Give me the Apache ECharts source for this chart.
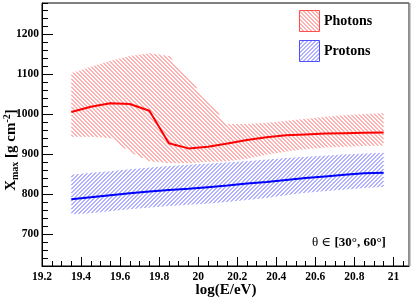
<!DOCTYPE html>
<html><head><meta charset="utf-8">
<script src="https://cdn.jsdelivr.net/npm/echarts@6/dist/echarts.min.js"></script>
<style>html,body{margin:0;padding:0;background:#fff}#c{width:417px;height:299px}</style>
</head><body><div id="c"></div>
<script>
const energies = [19.35,19.45,19.55,19.65,19.75,19.85,19.95,20.05,20.15,20.25,20.35,20.45,20.55,20.65,20.75,20.85,20.95];
const photonMean  = [1005,1018,1027,1025,1008,927,914,918,926,935,942,947,949,951,952,953,954];
const photonUpper = [1102,1118,1133,1145,1152,1145,1090,1030,975,975,978,983,988,993,997,1000,1002];
const photonLower = [943,943,940,905,882,877,877,880,882,888,898,906,912,916,918,920,921];
const protonMean  = [787,792,797,802,806,810,813,817,821,826,830,835,840,844,848,852,853];
const protonUpper = [848,853,857,862,866,870,873,876,879,882,886,890,893,896,899,901,903];
const protonLower = [749,752,757,762,766,770,773,776,780,785,790,797,803,807,811,815,818];
const xTickLabels = [19.2,19.4,19.6,19.8,20,20.2,20.4,20.6,20.8,21];
const yTickLabels = [700,800,900,1000,1100,1200];

const RED_HATCH = '#ff6464';
const BLUE_HATCH = '#6464ff';
const HATCH_STEP = 4;

// s = 1: "\" lines (x - y = c); s = -1: "/" lines (x + y = c)
function hatchSegments(poly, s, step) {
  const f = p => p[0] - s * p[1];
  let lo = Infinity, hi = -Infinity;
  poly.forEach(p => { const v = f(p); lo = Math.min(lo, v); hi = Math.max(hi, v); });
  const segs = [];
  for (let c = Math.ceil(lo / step) * step + 0.5; c <= hi; c += step) {
    const xs = [];
    for (let i = 0; i < poly.length; i++) {
      const P = poly[i], Q = poly[(i + 1) % poly.length];
      const a = f(P) - c, b = f(Q) - c;
      if ((a < 0 && b >= 0) || (a >= 0 && b < 0)) {
        const t = a / (a - b);
        xs.push([P[0] + t * (Q[0] - P[0]), P[1] + t * (Q[1] - P[1])]);
      }
    }
    xs.sort((u, v) => u[0] - v[0]);
    for (let k = 0; k + 1 < xs.length; k += 2) segs.push([xs[k], xs[k + 1]]);
  }
  return segs;
}
function segElems(segs, color) {
  return segs.map(sg => ({type: 'line', shape: {x1: sg[0][0], y1: sg[0][1], x2: sg[1][0], y2: sg[1][1]},
    style: {stroke: color, lineWidth: 1}}));
}

function band(lo, hi, s, color) {
  return function (params, api) {
    const pts = [];
    for (let i = 0; i < energies.length; i++) pts.push(api.coord([energies[i], hi[i]]));
    for (let i = energies.length - 1; i >= 0; i--) pts.push(api.coord([energies[i], lo[i]]));
    return {type: 'group', children: segElems(hatchSegments(pts, s, HATCH_STEP), color)};
  };
}
function legendBox(x, y, w, h, s, color, border) {
  const poly = [[x, y], [x + w, y], [x + w, y + h], [x, y + h]];
  return {type: 'group', children: segElems(hatchSegments(poly, s, HATCH_STEP), color).concat([
    {type: 'rect', shape: {x: x, y: y, width: w, height: h}, style: {fill: null, stroke: border, lineWidth: 1}}])};
}
const pairs = (ys) => energies.map((x, i) => [x, ys[i]]);
const serif = '"Liberation Serif","DejaVu Serif",serif';

const chart = echarts.init(document.getElementById('c'), null, {renderer: 'canvas'});
chart.setOption({
  animation: false,
  grid: {left: 42, right: 8, top: 3, bottom: 33, show: true, borderColor: '#000', borderWidth: 1, backgroundColor: 'transparent'},
  xAxis: [
    {type: 'value', min: 19.2, max: 21.08, position: 'bottom',
     axisLine: {show: true, lineStyle: {color: '#000', width: 1}},
     axisTick: {show: true, inside: true, length: 9, customValues: xTickLabels, lineStyle: {color: '#000'}},
     axisLabel: {show: true, customValues: xTickLabels, margin: 5, color: '#000', fontFamily: serif, fontWeight: 'bold', fontSize: 11.5,
       formatter: v => String(+(+v).toFixed(1))},
     splitLine: {show: false}},
    {type: 'value', min: 19.2, max: 21.08, interval: 0.05, position: 'bottom',
     axisLine: {show: false}, axisTick: {show: true, inside: true, length: 5, lineStyle: {color: '#000'}},
     axisLabel: {show: false}, splitLine: {show: false}}
  ],
  yAxis: [
    {type: 'value', min: 620, max: 1277.5, position: 'left',
     axisLine: {show: true, lineStyle: {color: '#000', width: 1}},
     axisTick: {show: true, inside: true, length: 11, customValues: yTickLabels, lineStyle: {color: '#000'}},
     axisLabel: {show: true, customValues: yTickLabels, margin: 3, color: '#000', fontFamily: serif, fontWeight: 'bold', fontSize: 11.5,
       formatter: v => String(Math.round(v))},
     splitLine: {show: false}},
    {type: 'value', min: 620, max: 1277.5, interval: 20, position: 'left',
     axisLine: {show: false}, axisTick: {show: true, inside: true, length: 6, lineStyle: {color: '#000'}},
     axisLabel: {show: false}, splitLine: {show: false}}
  ],
  series: [
    {type: 'custom', name: 'Photons band', renderItem: band(photonLower, photonUpper, 1, RED_HATCH), data: [[energies[0], photonLower[0]]], z: 1, silent: true},
    {type: 'custom', name: 'Protons band', renderItem: band(protonLower, protonUpper, -1, BLUE_HATCH), data: [[energies[0], protonLower[0]]], z: 1, silent: true},
    {type: 'line', name: 'Photons', data: pairs(photonMean), symbol: 'none', lineStyle: {color: '#ff0000', width: 2}, z: 3},
    {type: 'line', name: 'Protons', data: pairs(protonMean), symbol: 'none', lineStyle: {color: '#0000ff', width: 2}, z: 3}
  ],
  graphic: [
    {type: 'line', shape: {x1: 409.5, y1: 3, x2: 409.5, y2: 266}, style: {stroke: '#999', lineWidth: 2}, z: 10},
    legendBox(299.5, 10.5, 20, 21, 1, RED_HATCH, '#ff5050'),
    {type: 'text', x: 324, y: 21, style: {text: 'Photons', font: 'bold 14px ' + serif, fill: '#000', textVerticalAlign: 'middle'}},
    legendBox(299.5, 40.5, 20, 21, -1, BLUE_HATCH, '#5050ff'),
    {type: 'text', x: 324, y: 51.5, style: {text: 'Protons', font: 'bold 14px ' + serif, fill: '#000', textVerticalAlign: 'middle'}},
    {type: 'text', x: 349, y: 243, style: {text: '{n|θ ∈ }{b|[30°, 60°]}', textAlign: 'center', textVerticalAlign: 'middle',
      rich: {n: {font: '13px ' + serif, fill: '#000'}, b: {font: 'bold 13px ' + serif, fill: '#000'}}}},
    {type: 'text', x: 226, y: 290, style: {text: 'log(E/eV)', font: 'bold 15px ' + serif, fill: '#000', textAlign: 'center', textVerticalAlign: 'middle'}},
    {type: 'text', x: 11, y: 150, rotation: Math.PI / 2,
     style: {text: '{b|X}{sub|max}{b| [g cm}{sup|-2}{b|]}', textAlign: 'center', textVerticalAlign: 'middle',
       rich: {
         b: {font: 'bold 15px ' + serif, fill: '#000', lineHeight: 18, verticalAlign: 'middle'},
         sub: {font: 'bold 10px ' + serif, fill: '#000', lineHeight: 18, verticalAlign: 'bottom', padding: [6, 0, 0, 0]},
         sup: {font: 'bold 10px ' + serif, fill: '#000', lineHeight: 18, verticalAlign: 'top', padding: [0, 0, 6, 0]}
       }}}
  ]
});
</script></body></html>
